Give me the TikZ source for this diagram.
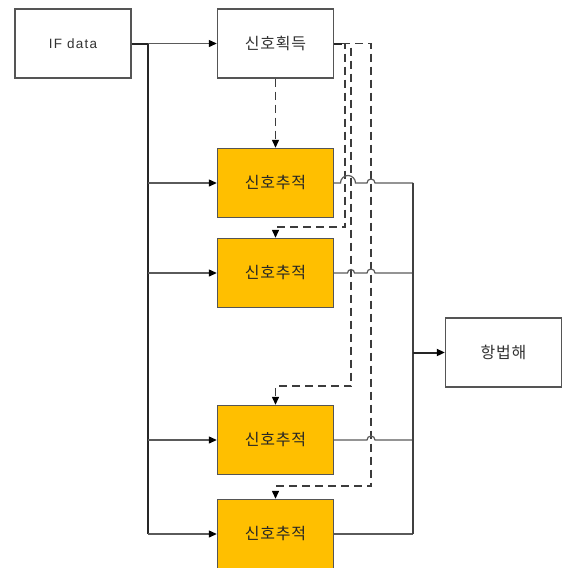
\documentclass[tikz,border=0pt]{standalone}
\usepackage{fontspec}
\setmainfont{Liberation Sans}
\newfontfamily\krfont{Noto Sans CJK KR}[LetterSpace=5]
\newfontfamily\enfont{Liberation Sans}[LetterSpace=9]
\usetikzlibrary{arrows.meta}
\definecolor{boxgray}{HTML}{555555}
\definecolor{linegray}{HTML}{5A5A5A}
\definecolor{dashgray}{HTML}{3C3C3C}
\definecolor{trackfill}{HTML}{FFBF00}
\definecolor{txt}{HTML}{333333}
\begin{document}
\begin{tikzpicture}[x=1pt,y=-1pt,
  box/.style={draw=boxgray, line width=1.4pt, fill=white, minimum width=116pt, minimum height=69pt, inner sep=0pt, text=txt},
  track/.style={box, fill=trackfill, text=black!85},
  krtext/.style={font=\krfont\fontsize{16}{19}\selectfont},
  entext/.style={font=\enfont\fontsize{13.5}{16}\selectfont},
  arrowtip/.style={-{Triangle[length=8pt,width=7pt,color=black]}},
  thinline/.style={draw=linegray, line width=1.2pt},
  trunkline/.style={draw=black!85, line width=2pt},
  dashline/.style={draw=dashgray, line width=1.3pt, dash pattern=on 8pt off 5pt},
]
\useasboundingbox (0,0) rectangle (563,568);

% nodes
\node[box, entext] (if) at (73,43.5) {IF data};
\node[box, krtext] (acq) at (275.5,43.5) {신호획득};
\node[track, krtext] (t1) at (275.5,183) {신호추적};
\node[track, krtext] (t2) at (275.5,273) {신호추적};
\node[track, krtext] (t3) at (275.5,440) {신호추적};
\node[track, krtext] (t4) at (275.5,534) {신호추적};
\node[box, krtext] (nav) at (503.5,352.5) {항법해};

% junctions
\coordinate (jl0) at (148,43.5);
\coordinate (jl1) at (148,183);
\coordinate (jl2) at (148,273);
\coordinate (jl3) at (148,440);
\coordinate (jl4) at (148,534);
\coordinate (jr1) at (413,183);
\coordinate (jr4) at (413,534);
\coordinate (jrn) at (413,352.5);

% left distribution
\draw[trunkline] (if.east) -- (jl0) -- (jl4);
\draw[thinline, arrowtip] (jl0) -- (acq.west);
\draw[thinline, arrowtip] (jl1) -- (t1.west);
\draw[thinline, arrowtip] (jl2) -- (t2.west);
\draw[thinline, arrowtip] (jl3) -- (t3.west);
\draw[thinline, arrowtip] (jl4) -- (t4.west);

% dashed control lines from acquisition
\draw[dashline, arrowtip] (acq.south) -- (t1.north);
\coordinate (s0) at (342,43.5);
\draw[trunkline] (acq.east) -- (s0);
\coordinate (d2a) at (345,43.5);
\coordinate (d2b) at (345,227);
\coordinate (d2c) at (275.5,227);
\draw[dashline, arrowtip] (s0) -- (d2a) -- (d2b) -- (d2c) -- (t2.north);
\coordinate (d3a) at (351,43.5);
\coordinate (d3b) at (351,386);
\coordinate (d3c) at (275.5,386);
\draw[dashline, arrowtip] (s0) -- (d3a) -- (d3b) -- (d3c) -- (t3.north);
\coordinate (d4a) at (371,43.5);
\coordinate (d4b) at (371,486);
\coordinate (d4c) at (275.5,486);
\draw[dashline, arrowtip] (s0) -- (d4a) -- (d4b) -- (d4c) -- (t4.north);

% outputs with line hops
\draw[thinline] (t1.east) -- (340.5,183) arc[start angle=180, end angle=360, radius=7.5]
  -- (367,183) arc[start angle=180, end angle=360, radius=4] -- (jr1);
\draw[thinline] (t2.east) -- (347.5,273) arc[start angle=180, end angle=360, radius=3.5]
  -- (367,273) arc[start angle=180, end angle=360, radius=4] -- (413,273);
\draw[thinline] (t3.east) -- (367,440) arc[start angle=180, end angle=360, radius=4] -- (413,440);
\draw[thinline] (t4.east) -- (jr4);

% right collector
\draw[draw=black!75, line width=1.8pt] (jr1) -- (jr4);
\draw[trunkline, arrowtip] (jrn) -- (nav.west);
\end{tikzpicture}
\end{document}
